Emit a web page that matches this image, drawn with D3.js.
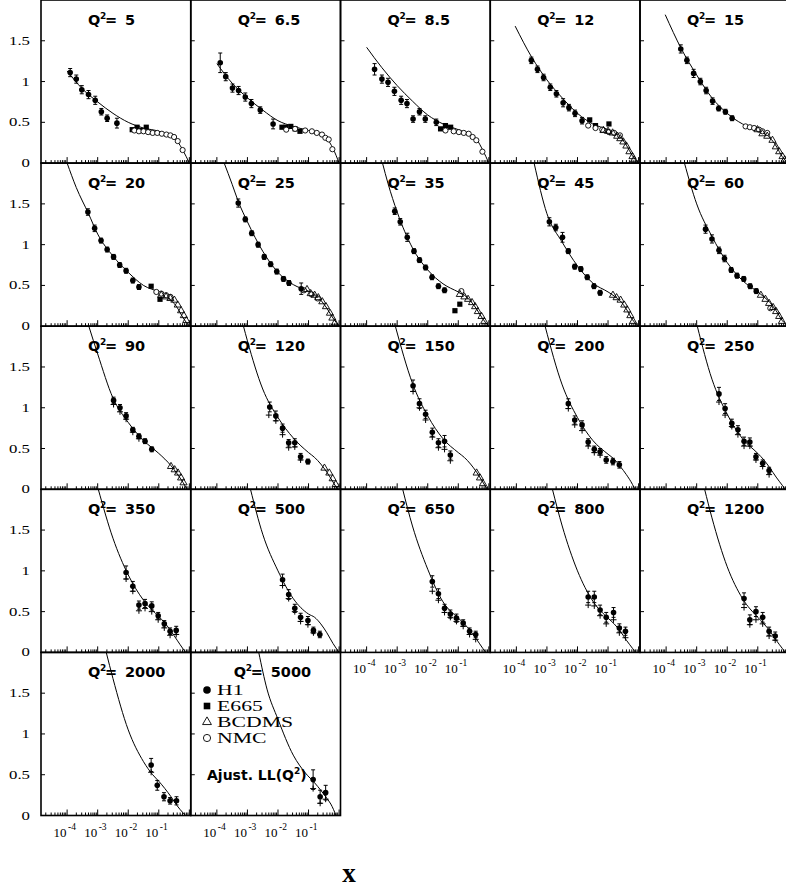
<!DOCTYPE html>
<html><head><meta charset="utf-8">
<script src="https://cdn.jsdelivr.net/npm/d3@7"></script>
<style>body{margin:0;background:#fff}svg{display:block}</style>
</head><body><svg id="c" width="786" height="891"></svg>
<script>
// ---------- DATA (x stored as log10(x), y = value) ----------
const q2Labels = ["5","6.5","8.5","12","15","20","25","35","45","60","90","120","150","200","250","350","500","650","800","1200","2000","5000"];
const yTicks = [0, 0.5, 1, 1.5];
const yTickLabels = ["0","0.5","1","1.5"];
const xDecades = [-4,-3,-2,-1];
const xDecadeLabels = ["-4","-3","-2","-1"];
const legendNames = ["H1","E665","BCDMS","NMC"];
const fitName = "Ajust. LL(Q";

const curves = [
 [[-4,1.13],[-3.5,0.91],[-3,0.75],[-2.5,0.61],[-2,0.50],[-1.5,0.43],[-1,0.39],[-0.8,0.36],[-0.6,0.33],[-0.4,0.27],[-0.2,0.15],[0,0]],
 [[-4,1.22],[-3.5,0.98],[-3,0.80],[-2.5,0.65],[-2,0.52],[-1.5,0.45],[-1,0.40],[-0.8,0.38],[-0.6,0.35],[-0.4,0.30],[-0.2,0.18],[0,0]],
 [[-4,1.42],[-3.5,1.17],[-3,0.95],[-2.5,0.76],[-2,0.59],[-1.5,0.48],[-1,0.41],[-0.8,0.38],[-0.6,0.35],[-0.4,0.29],[-0.2,0.16],[0,0]],
 [[-4.04,1.68],[-3.5,1.30],[-3,1.02],[-2.5,0.80],[-2,0.61],[-1.5,0.48],[-1,0.41],[-0.8,0.37],[-0.6,0.32],[-0.4,0.22],[-0.2,0.09],[0,0]],
 [[-4.03,1.82],[-3.5,1.40],[-3,1.08],[-2.5,0.80],[-2,0.61],[-1.5,0.48],[-1,0.41],[-0.8,0.37],[-0.6,0.31],[-0.4,0.21],[-0.2,0.08],[0,0]],
 [[-4,2.0],[-3.7,1.70],[-3.3,1.38],[-3,1.13],[-2.5,0.86],[-2,0.66],[-1.5,0.50],[-1,0.42],[-0.8,0.38],[-0.6,0.32],[-0.4,0.23],[-0.2,0.10],[0,0]],
 [[-3.76,2.0],[-3.5,1.74],[-3.3,1.53],[-3,1.28],[-2.5,0.92],[-2,0.66],[-1.5,0.51],[-1,0.43],[-0.8,0.39],[-0.6,0.32],[-0.4,0.22],[-0.2,0.10],[0,0]],
 [[-3.48,2.0],[-3.3,1.75],[-3,1.40],[-2.5,0.96],[-2,0.69],[-1.5,0.52],[-1,0.42],[-0.8,0.38],[-0.6,0.31],[-0.4,0.21],[-0.2,0.09],[0,0]],
 [[-3.42,2.0],[-3,1.38],[-2.5,1.03],[-2,0.74],[-1.5,0.53],[-1,0.42],[-0.8,0.37],[-0.6,0.31],[-0.4,0.21],[-0.2,0.08],[0,0]],
 [[-3.40,2.0],[-3,1.50],[-2.5,1.10],[-2,0.78],[-1.5,0.56],[-1,0.42],[-0.8,0.36],[-0.6,0.29],[-0.4,0.19],[-0.2,0.07],[0,0]],
 [[-3.29,2.0],[-3,1.66],[-2.5,1.12],[-2,0.82],[-1.5,0.60],[-1,0.44],[-0.8,0.37],[-0.6,0.29],[-0.4,0.19],[-0.2,0.08],[-0.08,0]],
 [[-3.13,2.0],[-3,1.82],[-2.5,1.23],[-2,0.88],[-1.5,0.63],[-1,0.45],[-0.8,0.39],[-0.6,0.31],[-0.4,0.21],[-0.2,0.09],[-0.05,0]],
 [[-3.06,2.0],[-2.5,1.30],[-2,0.90],[-1.5,0.62],[-1,0.45],[-0.8,0.39],[-0.6,0.31],[-0.4,0.21],[-0.2,0.09],[-0.05,0]],
 [[-3.06,2.0],[-2.5,1.28],[-2,0.88],[-1.5,0.60],[-1,0.43],[-0.8,0.37],[-0.6,0.28],[-0.4,0.18],[-0.2,0.06],[-0.12,0]],
 [[-2.98,2.0],[-2.5,1.35],[-2,0.92],[-1.5,0.62],[-1,0.44],[-0.8,0.36],[-0.6,0.26],[-0.4,0.15],[-0.2,0.05],[-0.1,0]],
 [[-2.98,2.0],[-2.5,1.40],[-2,0.95],[-1.5,0.64],[-1,0.44],[-0.8,0.36],[-0.6,0.26],[-0.4,0.15],[-0.2,0.04],[-0.12,0]],
 [[-2.90,2.0],[-2.5,1.45],[-2,1.0],[-1.5,0.66],[-1,0.47],[-0.8,0.43],[-0.6,0.35],[-0.4,0.24],[-0.2,0.11],[0,0]],
 [[-2.82,2.0],[-2.5,1.55],[-2,1.02],[-1.5,0.62],[-1,0.42],[-0.8,0.35],[-0.6,0.26],[-0.4,0.16],[-0.2,0.05],[-0.1,0]],
 [[-2.82,2.0],[-2.5,1.55],[-2,1.0],[-1.5,0.63],[-1,0.42],[-0.8,0.35],[-0.6,0.26],[-0.4,0.15],[-0.2,0.05],[-0.1,0]],
 [[-2.74,2.0],[-2.5,1.65],[-2,1.05],[-1.5,0.66],[-1,0.43],[-0.8,0.35],[-0.6,0.26],[-0.4,0.15],[-0.2,0.05],[-0.1,0]],
 [[-2.72,2.0],[-2.5,1.68],[-2,1.05],[-1.5,0.66],[-1.2,0.50],[-1,0.42],[-0.8,0.33],[-0.6,0.23],[-0.4,0.12],[-0.2,0.03],[-0.12,0]],
 [[-2.63,2.0],[-2.36,1.55],[-2,1.18],[-1.5,0.74],[-1.1,0.52],[-0.8,0.40],[-0.6,0.31],[-0.4,0.21],[-0.27,0.14],[-0.1,0]]
];

// H1: [log10 x, value, error]
const h1 = [
 [[-3.90,1.11,0.05],[-3.70,1.03,0.05],[-3.52,0.90,0.05],[-3.30,0.84,0.05],[-3.08,0.77,0.05],[-2.88,0.63,0.04],[-2.69,0.55,0.04],[-2.37,0.49,0.06]],
 [[-3.89,1.23,0.12],[-3.71,1.06,0.05],[-3.49,0.92,0.05],[-3.29,0.89,0.05],[-3.07,0.81,0.05],[-2.87,0.73,0.05],[-2.58,0.65,0.04],[-2.16,0.48,0.06]],
 [[-3.74,1.15,0.07],[-3.5,1.03,0.05],[-3.30,0.99,0.05],[-3.09,0.88,0.05],[-2.87,0.77,0.05],[-2.68,0.73,0.05],[-2.48,0.54,0.04],[-2.27,0.63,0.04],[-2.08,0.54,0.04],[-1.72,0.50,0.04]],
 [[-3.51,1.26,0.04],[-3.31,1.15,0.04],[-3.11,1.05,0.04],[-2.89,0.93,0.04],[-2.69,0.85,0.04],[-2.47,0.74,0.05],[-2.28,0.68,0.04],[-2.08,0.61,0.04],[-1.85,0.52,0.04]],
 [[-3.52,1.40,0.05],[-3.32,1.26,0.04],[-3.1,1.10,0.05],[-2.88,1.0,0.04],[-2.69,0.89,0.04],[-2.48,0.76,0.04],[-2.28,0.67,0.03],[-2.06,0.63,0.03],[-1.84,0.55,0.03]],
 [[-3.32,1.40,0.04],[-3.10,1.20,0.04],[-2.89,1.05,0.03],[-2.69,0.94,0.03],[-2.48,0.85,0.03],[-2.28,0.75,0.03],[-2.07,0.68,0.03],[-1.85,0.56,0.03],[-1.65,0.48,0.03]],
 [[-3.30,1.51,0.05],[-3.07,1.31,0.03],[-2.86,1.14,0.03],[-2.65,1.0,0.03],[-2.45,0.85,0.03],[-2.24,0.76,0.03],[-2.04,0.67,0.03],[-1.82,0.58,0.03],[-1.64,0.53,0.03],[-1.24,0.46,0.07]],
 [[-3.08,1.41,0.04],[-2.90,1.28,0.04],[-2.67,1.09,0.05],[-2.45,0.92,0.03],[-2.27,0.81,0.03],[-2.07,0.72,0.03],[-1.86,0.60,0.03],[-1.65,0.49,0.03],[-1.45,0.44,0.03]],
 [[-2.92,1.28,0.05],[-2.71,1.21,0.04],[-2.49,1.09,0.06],[-2.30,0.92,0.03],[-2.09,0.73,0.03],[-1.89,0.70,0.03],[-1.68,0.60,0.03],[-1.46,0.49,0.03],[-1.26,0.41,0.03]],
 [[-2.71,1.19,0.05],[-2.50,1.07,0.05],[-2.27,0.93,0.04],[-2.09,0.83,0.04],[-1.87,0.69,0.03],[-1.68,0.62,0.03],[-1.46,0.58,0.03],[-1.25,0.49,0.03],[-1.05,0.43,0.03]],
 [[-2.48,1.09,0.04],[-2.27,1.0,0.04],[-2.07,0.90,0.04],[-1.85,0.73,0.03],[-1.65,0.65,0.03],[-1.45,0.59,0.03],[-1.23,0.49,0.03]],
 [[-2.27,1.01,0.06],[-2.07,0.90,0.06],[-1.85,0.75,0.05],[-1.65,0.57,0.04],[-1.45,0.57,0.05],[-1.26,0.40,0.04],[-1.02,0.34,0.03]],
 [[-2.48,1.27,0.07],[-2.27,1.05,0.06],[-2.07,0.92,0.05],[-1.85,0.70,0.05],[-1.65,0.57,0.05],[-1.45,0.59,0.07],[-1.26,0.42,0.05]],
 [[-2.30,1.05,0.06],[-2.09,0.85,0.05],[-1.85,0.79,0.05],[-1.65,0.58,0.04],[-1.45,0.49,0.04],[-1.26,0.46,0.04],[-1.06,0.36,0.04],[-0.84,0.34,0.04],[-0.63,0.30,0.04]],
 [[-2.27,1.17,0.08],[-2.07,0.99,0.06],[-1.85,0.81,0.05],[-1.65,0.73,0.05],[-1.45,0.59,0.05],[-1.26,0.58,0.05],[-1.06,0.40,0.04],[-0.84,0.32,0.04],[-0.63,0.23,0.04]],
 [[-2.07,0.98,0.08],[-1.85,0.81,0.06],[-1.65,0.58,0.05],[-1.45,0.60,0.05],[-1.23,0.57,0.05],[-1.02,0.45,0.04],[-0.82,0.35,0.04],[-0.63,0.26,0.04],[-0.43,0.27,0.05]],
 [[-1.85,0.89,0.07],[-1.65,0.71,0.06],[-1.45,0.54,0.05],[-1.26,0.43,0.05],[-1.02,0.39,0.05],[-0.84,0.27,0.04],[-0.63,0.22,0.04]],
 [[-1.85,0.87,0.07],[-1.65,0.72,0.06],[-1.45,0.54,0.05],[-1.26,0.47,0.05],[-1.06,0.42,0.05],[-0.84,0.36,0.04],[-0.63,0.26,0.04],[-0.43,0.22,0.04]],
 [[-1.65,0.68,0.07],[-1.45,0.68,0.07],[-1.26,0.52,0.06],[-1.06,0.43,0.06],[-0.82,0.49,0.06],[-0.63,0.30,0.05],[-0.43,0.26,0.05]],
 [[-1.45,0.66,0.07],[-1.26,0.40,0.06],[-1.06,0.50,0.06],[-0.84,0.43,0.06],[-0.63,0.26,0.05],[-0.43,0.20,0.05]],
 [[-1.25,0.62,0.08],[-1.05,0.37,0.06],[-0.83,0.23,0.05],[-0.63,0.18,0.04],[-0.42,0.18,0.05]],
 [[-0.85,0.44,0.12],[-0.62,0.23,0.08],[-0.44,0.28,0.09]]
];

// second set of measurements, drawn as "+" marks
const crosses = [
 [],[],[],[],[],[],[],[],[],[],
 [[-2.48,1.04],[-2.27,0.95],[-2.07,0.86],[-1.85,0.70],[-1.65,0.62]],
 [[-2.30,0.91],[-2.07,0.84],[-1.85,0.67],[-1.65,0.51],[-1.45,0.52],[-1.26,0.36]],
 [[-2.48,1.20],[-2.27,1.0],[-2.07,0.85],[-1.85,0.64],[-1.65,0.51],[-1.45,0.49],[-1.26,0.35]],
 [[-2.30,0.99],[-2.09,0.79],[-1.85,0.72],[-1.65,0.53],[-1.45,0.45],[-1.26,0.42]],
 [[-2.27,1.07],[-2.07,0.91],[-1.85,0.77],[-1.65,0.67],[-1.45,0.53],[-1.26,0.53],[-1.06,0.36],[-0.84,0.28],[-0.63,0.18]],
 [[-2.07,0.90],[-1.85,0.75],[-1.65,0.51],[-1.45,0.54],[-1.23,0.50],[-1.02,0.40],[-0.82,0.30],[-0.63,0.21],[-0.43,0.22]],
 [[-1.85,0.82],[-1.65,0.66],[-1.45,0.50],[-1.26,0.38],[-1.02,0.34],[-0.84,0.24]],
 [[-1.85,0.75],[-1.65,0.64],[-1.45,0.49],[-1.26,0.43],[-1.06,0.38],[-0.84,0.32],[-0.63,0.22],[-0.43,0.16]],
 [[-1.65,0.58],[-1.45,0.57],[-1.26,0.45],[-1.06,0.35],[-0.82,0.40],[-0.63,0.24],[-0.43,0.18]],
 [[-1.45,0.55],[-1.26,0.34],[-1.06,0.40],[-0.84,0.35],[-0.63,0.20],[-0.43,0.15]],
 [[-1.25,0.53]],
 [[-0.85,0.33],[-0.62,0.15],[-0.44,0.20]]
];

const e665 = [
 [[-1.87,0.41],[-1.71,0.44],[-1.55,0.40],[-1.41,0.44]],
 [[-1.87,0.44],[-1.74,0.44],[-1.58,0.45],[-1.44,0.42],[-1.28,0.39]],
 [[-1.58,0.42],[-1.42,0.46],[-1.25,0.44]],
 [[-1.60,0.53],[-1.41,0.46],[-0.97,0.48]],
 [],
 [[-1.25,0.49],[-0.96,0.33]],
 [],
 [[-1.11,0.19],[-0.95,0.27]],
 [],[],[],[],[],[],[],[],[],[],[],[],[],[]
];

const nmc = [
 [[-1.8,0.40],[-1.65,0.39],[-1.5,0.39],[-1.35,0.38],[-1.2,0.37],[-1.05,0.37],[-0.9,0.36],[-0.75,0.35],[-0.62,0.34],[-0.5,0.32],[-0.38,0.27],[-0.22,0.16]],
 [[-1.73,0.41],[-1.44,0.42],[-1.11,0.40],[-0.89,0.39],[-0.73,0.37],[-0.56,0.35],[-0.45,0.31],[-0.34,0.29],[-0.22,0.17]],
 [[-1.42,0.40],[-1.15,0.39],[-0.98,0.38],[-0.82,0.37],[-0.66,0.36],[-0.53,0.32],[-0.41,0.28],[-0.21,0.14]],
 [[-1.65,0.46],[-1.41,0.43],[-1.19,0.41],[-0.97,0.38],[-0.8,0.37],[-0.61,0.34]],
 [[-1.40,0.45],[-1.26,0.44],[-1.12,0.43],[-0.96,0.41],[-0.85,0.39],[-0.69,0.37]],
 [[-1.08,0.42],[-0.92,0.40],[-0.76,0.38],[-0.62,0.36]],
 [[-1.15,0.44],[-0.9,0.39],[-0.7,0.34]],
 [[-0.90,0.43]],
 [],
 [[-0.59,0.22]],
 [],[],[],[],[],[],[],[],[],[],[],[]
];

const bcdms = [
 [],[],[],
 [[-1.15,0.40],[-1.0,0.39],[-0.85,0.37],[-0.7,0.33],[-0.6,0.30],[-0.5,0.26],[-0.4,0.21],[-0.3,0.14],[-0.2,0.08],[-0.15,0.04]],
 [[-1.01,0.41],[-0.85,0.36],[-0.69,0.33],[-0.52,0.28],[-0.41,0.20],[-0.3,0.14],[-0.19,0.08],[-0.12,0.04]],
 [[-0.92,0.38],[-0.76,0.36],[-0.62,0.34],[-0.49,0.32],[-0.38,0.26],[-0.27,0.19],[-0.18,0.13],[-0.1,0.07]],
 [[-1.05,0.45],[-0.93,0.40],[-0.8,0.38],[-0.68,0.35],[-0.55,0.30],[-0.43,0.24],[-0.30,0.16],[-0.22,0.10],[-0.14,0.04]],
 [[-0.95,0.39],[-0.8,0.36],[-0.68,0.33],[-0.55,0.29],[-0.45,0.24],[-0.36,0.18],[-0.24,0.12],[-0.15,0.06]],
 [[-0.84,0.38],[-0.72,0.35],[-0.59,0.32],[-0.47,0.26],[-0.37,0.20],[-0.27,0.13],[-0.18,0.06]],
 [[-0.90,0.38],[-0.75,0.33],[-0.63,0.28],[-0.5,0.23],[-0.40,0.18],[-0.30,0.12],[-0.21,0.06]],
 [[-0.60,0.28],[-0.48,0.24],[-0.37,0.20],[-0.27,0.14],[-0.19,0.08]],
 [[-0.48,0.26],[-0.32,0.20],[-0.21,0.13],[-0.11,0.06]],
 [[-0.40,0.20],[-0.29,0.14],[-0.19,0.07]],
 [],[],[],[],[],[],[],[],[]
];

// ---------- LAYOUT ----------
const svg = d3.select("#c");
svg.append("rect").attr("width",786).attr("height",891).attr("fill","#fff");
const colW = 149.75, rowH = 163.1, left0 = 41, top0 = 0;
const xDom = [Math.pow(10,-4.855), Math.pow(10,0.046)];
const nCols = 5;
const lastRowByCol = [4,4,3,3,3];

const SERIF = "'Liberation Serif','Times New Roman',serif";
const SANSB = "'DejaVu Sans',sans-serif";

q2Labels.forEach((lab, i) => {
  const col = i % nCols, row = Math.floor(i / nCols);
  const L = left0 + col*colW, T = top0 + row*rowH, B = T + rowH, R = L + colW;
  const x = d3.scaleLog().domain(xDom).range([L, R]);
  const y = d3.scaleLinear().domain([0, 2]).range([B, T]);
  const g = svg.append("g");
  const cid = "clip" + i;
  svg.append("clipPath").attr("id", cid).append("rect").attr("x", L).attr("y", T).attr("width", colW).attr("height", rowH);
  const inner = g.append("g").attr("clip-path", `url(#${cid})`);
  const px = d => x(Math.pow(10, d[0]));

  // x ticks (inside, bottom)
  const minor = [];
  for (let dec = -5; dec <= 0; dec++) for (let m = 1; m <= 9; m++) {
    const v = m * Math.pow(10, dec);
    if (v >= xDom[0] && v <= xDom[1]) minor.push({v, major: m === 1});
  }
  g.selectAll(null).data(minor).enter().append("line")
    .attr("x1", d => x(d.v)).attr("x2", d => x(d.v))
    .attr("y1", B).attr("y2", d => B - (d.major ? 6 : 3))
    .attr("stroke", "#000").attr("stroke-width", 1);
  // y ticks (inside, left)
  g.selectAll(null).data(yTicks.slice(1)).enter().append("line")
    .attr("x1", L).attr("x2", L + 4).attr("y1", d => y(d)).attr("y2", d => y(d))
    .attr("stroke", "#000").attr("stroke-width", 1);

  // fit curve
  const line = d3.line().x(px).y(d => y(d[1])).curve(d3.curveMonotoneX);
  inner.append("path").attr("d", line(curves[i])).attr("fill", "none").attr("stroke", "#000").attr("stroke-width", 1);

  // E665 squares
  inner.selectAll(null).data(e665[i]).enter().append("rect")
    .attr("x", d => px(d) - 2.6).attr("y", d => y(d[1]) - 2.6).attr("width", 5.2).attr("height", 5.2).attr("fill", "#000");
  // NMC open circles
  inner.selectAll(null).data(nmc[i]).enter().append("circle")
    .attr("cx", px).attr("cy", d => y(d[1])).attr("r", 2.6).attr("fill", "#fff").attr("stroke", "#000").attr("stroke-width", 0.9);
  // BCDMS open triangles
  inner.selectAll(null).data(bcdms[i]).enter().append("path")
    .attr("d", d3.symbol(d3.symbolTriangle, 22))
    .attr("transform", d => `translate(${px(d)},${y(d[1])})`)
    .attr("fill", "none").attr("stroke", "#000").attr("stroke-width", 0.9);
  // crosses
  inner.selectAll(null).data(crosses[i]).enter().append("path")
    .attr("d", d => { const cx = px(d), cy = y(d[1]); return `M${cx-3},${cy}H${cx+3}M${cx},${cy-3}V${cy+3}`; })
    .attr("stroke", "#000").attr("stroke-width", 1);
  // H1 error bars + points
  inner.selectAll(null).data(h1[i]).enter().append("path")
    .attr("d", d => { const cx = px(d), y1 = y(d[1]+d[2]), y2 = y(d[1]-d[2]);
      return `M${cx},${y1}V${y2}M${cx-2},${y1}H${cx+2}M${cx-2},${y2}H${cx+2}`; })
    .attr("stroke", "#000").attr("stroke-width", 1).attr("fill", "none");
  inner.selectAll(null).data(h1[i]).enter().append("circle")
    .attr("cx", px).attr("cy", d => y(d[1])).attr("r", 2.8).attr("fill", "#000");

  // frame
  g.append("rect").attr("x", L).attr("y", T).attr("width", colW).attr("height", rowH)
    .attr("fill", "none").attr("stroke", "#000").attr("stroke-width", 1.6);

  // title
  const tx = L + (lab === "5000" ? 43 : 47), ty = T + 25;
  const t = g.append("text").attr("font-family", SANSB).attr("font-weight", "bold").attr("font-size", 14.5).attr("fill", "#000");
  t.append("tspan").attr("x", tx).attr("y", ty).text("Q");
  t.append("tspan").attr("x", tx + 12).attr("y", ty - 6).attr("font-size", 9).text("2");
  t.append("tspan").attr("x", tx + 17).attr("y", ty).text("=");
  t.append("tspan").attr("x", tx + 37).attr("y", ty).text(lab);

  // y labels (first column)
  if (col === 0) {
    yTicks.forEach((v, k) => {
      svg.append("text").attr("transform", `translate(30,${y(v) + 4}) scale(1.4,1)`)
        .attr("text-anchor", "end").attr("font-family", SERIF).attr("font-size", 12).text(yTickLabels[k]);
    });
  }
  // x labels (lowest panel of each column)
  if (row === lastRowByCol[col]) {
    xDecades.forEach((dd, k) => {
      const xx = x(Math.pow(10, dd));
      svg.append("text").attr("x", xx - 0.5).attr("y", B + 21).attr("text-anchor", "end")
        .attr("font-family", SERIF).attr("font-size", 13).text("10");
      svg.append("text").attr("x", xx + 1).attr("y", B + 14).attr("font-family", SERIF).attr("font-size", 9.5).text(xDecadeLabels[k]);
    });
  }

  // legend in last panel
  if (i === q2Labels.length - 1) {
    const lx = 207, ly = [690, 706, 722, 738];
    svg.append("circle").attr("cx", lx).attr("cy", ly[0]).attr("r", 3.8).attr("fill", "#000");
    svg.append("rect").attr("x", lx - 3.3).attr("y", ly[1] - 3.3).attr("width", 6.6).attr("height", 6.6).attr("fill", "#000");
    svg.append("path").attr("d", d3.symbol(d3.symbolTriangle, 34)).attr("transform", `translate(${lx},${ly[2]})`)
      .attr("fill", "none").attr("stroke", "#000").attr("stroke-width", 0.9);
    svg.append("circle").attr("cx", lx).attr("cy", ly[3]).attr("r", 3.6).attr("fill", "none").attr("stroke", "#000").attr("stroke-width", 0.9);
    legendNames.forEach((n, k) => {
      svg.append("text").attr("transform", `translate(217,${ly[k] + 5}) scale(1.45,1)`)
        .attr("font-family", SERIF).attr("font-size", 15).text(n);
    });
    const ft = svg.append("text").attr("font-family", SANSB).attr("font-weight", "bold").attr("font-size", 14);
    ft.append("tspan").attr("x", 207).attr("y", 780).text(fitName);
    ft.append("tspan").attr("dy", -6).attr("font-size", 9).text("2");
    ft.append("tspan").attr("dy", 6).text(")");
  }
});

// axis title
svg.append("text").attr("x", 349).attr("y", 882).attr("text-anchor", "middle")
  .attr("font-family", SERIF).attr("font-weight", "bold").attr("font-size", 27).text("x");
</script></body></html>
